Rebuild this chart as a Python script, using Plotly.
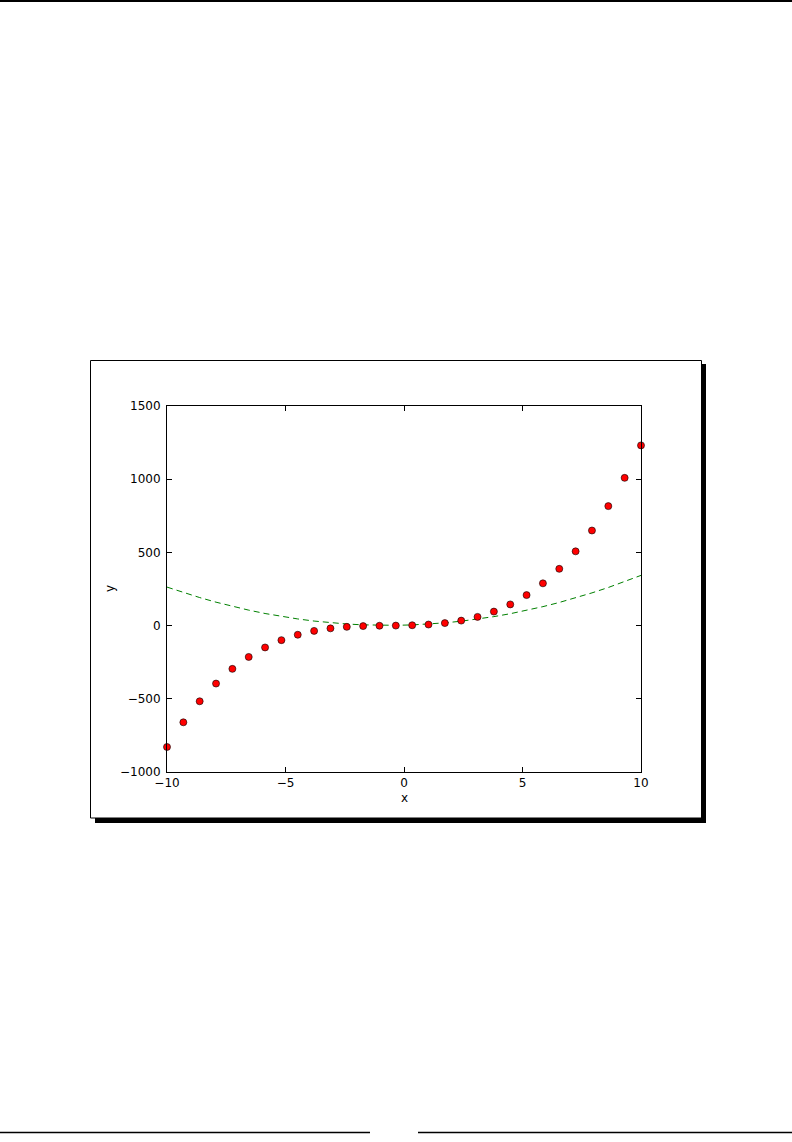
import plotly.graph_objects as go

# Data
x_vals = [-10.0, -9.310, -8.621, -7.931, -7.241, -6.552, -5.862, -5.172, -4.483, -3.793,
          -3.103, -2.414, -1.724, -1.034, -0.345, 0.345, 1.034, 1.724, 2.414, 3.103,
          3.793, 4.483, 5.172, 5.862, 6.552, 7.241, 7.931, 8.621, 9.310, 10.0]
y_points = [-829, -660.5, -517.0, -395.9, -295.5, -214.1, -149.3, -99.4, -62.4, -36.2,
            -18.9, -8.65, -3.35, -1.07, 0.16, 2.31, 7.35, 17.2, 34.0, 59.5,
            95.7, 144.7, 208.4, 288.7, 387.8, 507.3, 649.5, 816.2, 1009.2, 1231]
y_curve = [263, 225.8, 191.5, 160.0, 131.3, 105.6, 82.6, 62.6, 45.4, 31.0,
           19.5, 10.8, 5.0, 2.07, 1.98, 4.74, 10.35, 18.8, 30.1, 44.3,
           61.3, 81.2, 104.0, 129.5, 158.0, 189.3, 223.4, 260.4, 300.2, 343]
x_ticks = [-10, -5, 0, 5, 10]
y_ticks = [-1000, -500, 0, 500, 1000, 1500]

W, H = 792, 1142
L, R, T, B = 167, 641, 406, 772  # plot area in pixels


def px(xp):
    return (xp - L) / (R - L)


def py(yp):
    return (B - yp) / (B - T)


fig = go.Figure()
fig.add_trace(go.Scatter(x=x_vals, y=y_curve, mode="lines",
                         line=dict(color="#008000", width=1, dash="6px,4px"),
                         showlegend=False, hoverinfo="skip"))
fig.add_trace(go.Scatter(x=x_vals, y=y_points, mode="markers",
                         marker=dict(color="#ff0000", size=7,
                                     line=dict(color="black", width=0.6)),
                         cliponaxis=False, showlegend=False))

shapes = [
    # shadow
    dict(type="rect", xref="paper", yref="paper", x0=px(95), x1=px(706), y0=py(364), y1=py(823),
         fillcolor="black", line=dict(width=0), layer="below"),
    # frame
    dict(type="rect", xref="paper", yref="paper", x0=px(90.5), x1=px(701.5), y0=py(360.5), y1=py(818),
         fillcolor="white", line=dict(color="black", width=1), layer="below"),
    # page rules
    dict(type="line", xref="paper", yref="paper", x0=px(0), x1=px(792), y0=py(1), y1=py(1),
         line=dict(color="black", width=2)),
    dict(type="line", xref="paper", yref="paper", x0=px(0), x1=px(370), y0=py(1132.5), y1=py(1132.5),
         line=dict(color="black", width=1.5)),
    dict(type="line", xref="paper", yref="paper", x0=px(418), x1=px(792), y0=py(1132.5), y1=py(1132.5),
         line=dict(color="black", width=1.5)),
]

font = dict(family="DejaVu Sans", size=12, color="black")
annotations = [
    dict(text="x", xref="paper", yref="paper", x=0.5, y=py(798), showarrow=False,
         xanchor="center", yanchor="middle", font=font, borderpad=0),
    dict(text="y", xref="paper", yref="paper", x=px(110), y=0.5, showarrow=False,
         xanchor="center", yanchor="middle", textangle=-90, font=font, borderpad=0),
]

axis_common = dict(showgrid=False, zeroline=False, showline=True, linecolor="black",
                   linewidth=1, mirror="allticks", ticks="inside", ticklen=5,
                   tickcolor="black", tickwidth=1, tickfont=font)

fig.update_layout(
    width=W, height=H, autosize=False,
    margin=dict(l=L, r=W - R, t=T, b=H - B, pad=0),
    paper_bgcolor="white", plot_bgcolor="white",
    shapes=shapes, annotations=annotations,
    xaxis=dict(range=[-10, 10], tickvals=x_ticks, ticklabelstandoff=0, **axis_common),
    yaxis=dict(range=[-1000, 1500], tickvals=y_ticks, ticklabelstandoff=3, **axis_common),
    font=font,
)

fig.write_html("out.html", config={"displayModeBar": False},
               post_script="document.body.style.margin='0';")
